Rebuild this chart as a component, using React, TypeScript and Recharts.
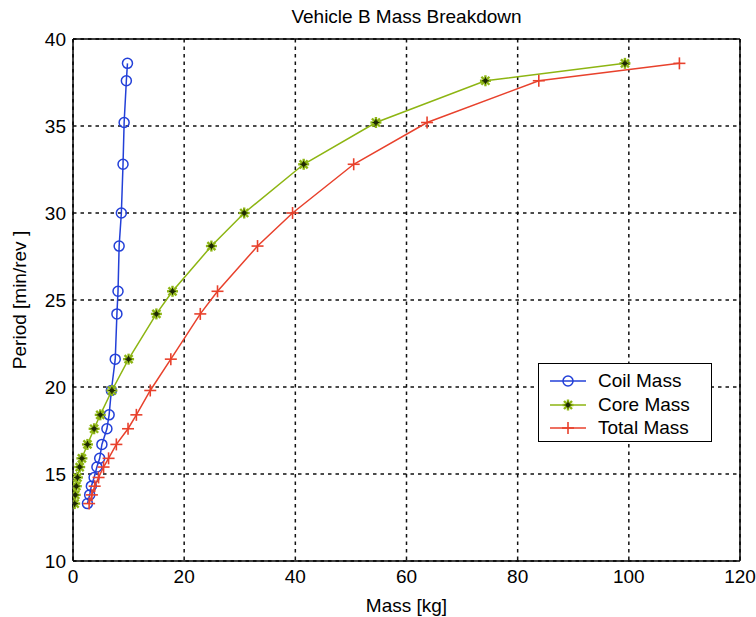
import React from 'react';
import { ScatterChart, Scatter, XAxis, YAxis, CartesianGrid, ReferenceLine } from 'recharts';

// periods shared by all three series [min/rev]
const periods = [13.3, 13.8, 14.3, 14.8, 15.4, 15.9, 16.7, 17.6, 18.4, 19.8, 21.6, 24.2, 25.5, 28.1, 30.0, 32.8, 35.2, 37.6, 38.6];
// masses [kg]
const coilMass = [2.6, 3.0, 3.3, 3.8, 4.3, 4.8, 5.2, 6.1, 6.5, 6.9, 7.6, 7.9, 8.1, 8.3, 8.7, 9.0, 9.2, 9.6, 9.8];
const coreMass = [0.3, 0.4, 0.6, 0.8, 1.2, 1.6, 2.6, 3.8, 4.9, 7.0, 10.0, 15.0, 17.9, 24.9, 30.8, 41.5, 54.5, 74.2, 99.3];
const totalMass = [2.9, 3.4, 3.9, 4.6, 5.5, 6.4, 7.8, 9.9, 11.4, 13.9, 17.6, 22.9, 26.0, 33.2, 39.5, 50.5, 63.7, 83.8, 109.1];

const xTicks = [0, 20, 40, 60, 80, 100, 120];
const yTicks = [10, 15, 20, 25, 30, 35, 40];

const BLUE = '#2340d8';
const GREEN = '#8db512';
const RED = '#e8412c';
const FONT = '"Liberation Sans", Arial, sans-serif';

const toPoints = (xs: number[]) => periods.map((p, i) => ({ x: xs[i], y: p }));

const coilData = toPoints(coilMass);
const coreData = toPoints(coreMass);
const totalData = toPoints(totalMass);

const CircleMark = ({ cx, cy }: any) => (
  <circle cx={cx} cy={cy} r={5} fill="none" stroke={BLUE} strokeWidth={1.5} />
);

const StarMark = ({ cx, cy }: any) => {
  const s = 5.5;
  const d = 4;
  return (
    <g>
      <g stroke={GREEN} strokeWidth={2.4}>
        <line x1={cx - s} y1={cy} x2={cx + s} y2={cy} />
        <line x1={cx} y1={cy - s} x2={cx} y2={cy + s} />
        <line x1={cx - d} y1={cy - d} x2={cx + d} y2={cy + d} />
        <line x1={cx - d} y1={cy + d} x2={cx + d} y2={cy - d} />
      </g>
      <g stroke="#1f2a05" strokeWidth={1}>
        <line x1={cx - s + 2} y1={cy} x2={cx + s - 2} y2={cy} />
        <line x1={cx} y1={cy - s + 2} x2={cx} y2={cy + s - 2} />
      </g>
      <circle cx={cx} cy={cy} r={2.2} fill="#1f2a05" stroke="none" />
    </g>
  );
};

const PlusMark = ({ cx, cy }: any) => (
  <g stroke={RED} strokeWidth={1.6}>
    <line x1={cx - 6} y1={cy} x2={cx + 6} y2={cy} />
    <line x1={cx} y1={cy - 6} x2={cx} y2={cy + 6} />
  </g>
);

const legendItems = [
  { name: 'Coil Mass', color: BLUE, Mark: CircleMark },
  { name: 'Core Mass', color: GREEN, Mark: StarMark },
  { name: 'Total Mass', color: RED, Mark: PlusMark },
];

const ChartLegend = () => (
  <div
    style={{
      position: 'absolute',
      left: 538,
      top: 363,
      width: 174,
      height: 79,
      border: '1.5px solid #000',
      background: '#fff',
      boxSizing: 'border-box',
      fontFamily: FONT,
      fontSize: 19,
    }}
  >
    {legendItems.map((item, i) => (
      <div key={item.name} style={{ position: 'absolute', left: 0, top: 5 + i * 23.5, height: 24, display: 'flex', alignItems: 'center' }}>
        <svg width={58} height={24}>
          <line x1={11} y1={12} x2={47} y2={12} stroke={item.color} strokeWidth={1.5} />
          <item.Mark cx={29} cy={12} />
        </svg>
        <span style={{ marginLeft: 1, lineHeight: '24px' }}>{item.name}</span>
      </div>
    ))}
  </div>
);

export default function App() {
  return (
    <div style={{ position: 'absolute', left: 0, top: 0, width: 756, height: 617, background: '#fff' }}>
      <div
        style={{
          position: 'absolute',
          left: 73,
          width: 667,
          top: 6,
          textAlign: 'center',
          fontFamily: FONT,
          fontSize: 19,
        }}
      >
        Vehicle B Mass Breakdown
      </div>
      <ScatterChart
        width={756}
        height={617}
        margin={{ top: 39, right: 16, bottom: 0, left: 0 }}
        style={{ fontFamily: FONT }}
      >
        <CartesianGrid stroke="#111" strokeWidth={1.5} strokeDasharray="3.5 4" />
        <XAxis
          type="number"
          dataKey="x"
          domain={[0, 120]}
          ticks={xTicks}
          height={56}
          tickLine={false}
          tickSize={0}
          tickMargin={9}
          axisLine={{ stroke: '#000', strokeWidth: 1.5 }}
          tick={{ fill: '#000', fontSize: 19 }}
          allowDataOverflow
          label={{ value: 'Mass [kg]', position: 'insideBottom', offset: 5, fill: '#000', fontSize: 19 }}
        />
        <YAxis
          type="number"
          dataKey="y"
          domain={[10, 40]}
          ticks={yTicks}
          width={73}
          tickLine={false}
          tickSize={0}
          tickMargin={7}
          axisLine={{ stroke: '#000', strokeWidth: 1.5 }}
          tick={{ fill: '#000', fontSize: 19 }}
          allowDataOverflow
          label={{ value: 'Period [min/rev ]', angle: -90, position: 'center', dx: -17, fill: '#000', fontSize: 19 }}
        />
        <ReferenceLine y={40} stroke="#000" strokeWidth={1.5} />
        <ReferenceLine x={120} stroke="#000" strokeWidth={1.5} />
        <Scatter
          name="Coil Mass"
          data={coilData}
          fill={BLUE}
          line={{ stroke: BLUE, strokeWidth: 1.5 }}
          shape={CircleMark}
          isAnimationActive={false}
        />
        <Scatter
          name="Core Mass"
          data={coreData}
          fill={GREEN}
          line={{ stroke: GREEN, strokeWidth: 1.5 }}
          shape={StarMark}
          isAnimationActive={false}
        />
        <Scatter
          name="Total Mass"
          data={totalData}
          fill={RED}
          line={{ stroke: RED, strokeWidth: 1.5 }}
          shape={PlusMark}
          isAnimationActive={false}
        />
      </ScatterChart>
      <ChartLegend />
    </div>
  );
}
